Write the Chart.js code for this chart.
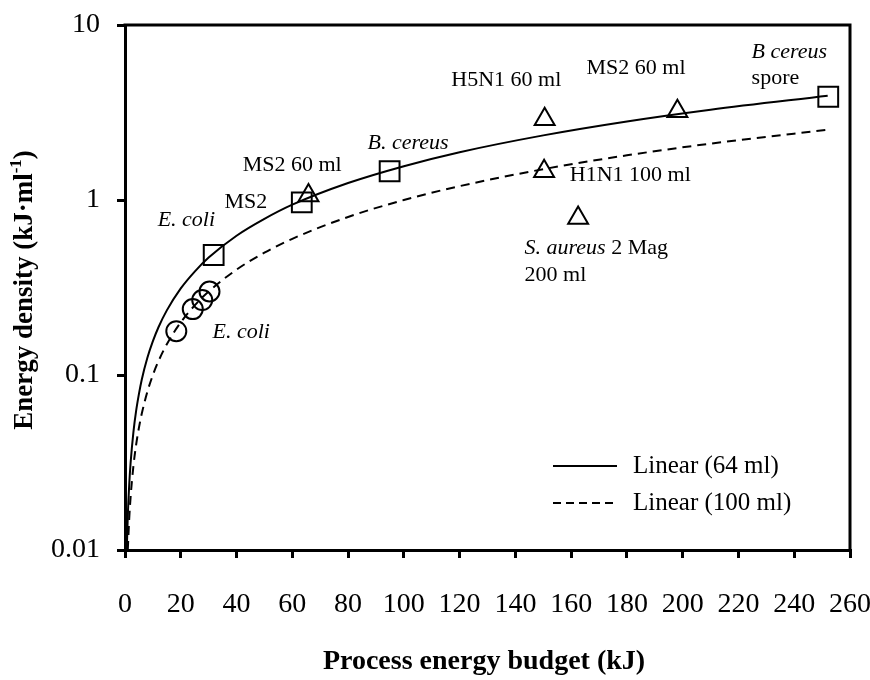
<!DOCTYPE html>
<html>
<head>
<meta charset="utf-8">
<script src="https://cdn.jsdelivr.net/npm/chart.js@4/dist/chart.umd.min.js"></script>
<style>
html,body{margin:0;padding:0;background:#fff;}
#wrap{width:870px;height:680px;}
</style>
</head>
<body>
<div id="wrap"><canvas id="c" width="870" height="680"></canvas></div>
<script>
// ---- Data ----
const squareX = [31.8, 63.4, 94.9, 252.2];
const squareY = [0.485, 0.97, 1.46, 3.89];

const triangleX = [65.8, 150.5, 150.3, 162.5, 198.1];
const triangleY = [1.06, 2.89, 1.46, 0.79, 3.21];

const circleX = [18.4, 24.3, 27.7, 30.3];
const circleY = [0.178, 0.238, 0.268, 0.30];

// Trend line "Linear (64 ml)"
const fit64X = [0.64, 1, 1.5, 2, 3, 4, 5, 6, 8, 10, 12, 15, 20, 25, 30, 40, 50, 60, 80, 100, 120, 150, 180, 210, 252];
const fit64Y = [0.01, 0.0156, 0.0234, 0.0313, 0.0469, 0.0625, 0.078, 0.094, 0.125, 0.156, 0.1875, 0.234, 0.3125, 0.39, 0.469, 0.625, 0.78, 0.94, 1.25, 1.56, 1.875, 2.34, 2.81, 3.28, 3.94];

// Trend line "Linear (100 ml)"
const fit100X = [1, 1.5, 2, 3, 4, 5, 6, 8, 10, 12, 15, 20, 25, 30, 40, 50, 60, 80, 100, 120, 150, 180, 210, 252];
const fit100Y = [0.01, 0.015, 0.02, 0.03, 0.04, 0.05, 0.06, 0.08, 0.1, 0.12, 0.15, 0.2, 0.25, 0.3, 0.4, 0.5, 0.6, 0.8, 1.0, 1.2, 1.5, 1.8, 2.1, 2.52];

const xTickValues = [0, 20, 40, 60, 80, 100, 120, 140, 160, 180, 200, 220, 240, 260];
const yTickValues = [0.01, 0.1, 1, 10];
const yTickLabels = ['0.01', '0.1', '1', '10'];

const seriesNames = ['Linear (64 ml)', 'Linear (100 ml)'];
const xTitle = 'Process energy budget (kJ)';
const yTitleMain = 'Energy density (kJ·ml';
const yTitleSup = '-1';
const yTitleEnd = ')';

// Point labels: text segments [text, italic], anchored at data coordinates (left edge, middle)
const labelTexts = [
  [['H5N1 60 ml', false]],
  [['MS2 60 ml', false]],
  [['B cereus', true]],
  [['spore', false]],
  [['B. cereus', true]],
  [['MS2 60 ml', false]],
  [['MS2', false]],
  [['E. coli', true]],
  [['E. coli', true]],
  [['H1N1 100 ml', false]],
  [['S. aureus', true], [' 2 Mag', false]],
  [['200 ml', false]]
];
const labelX = [117.0, 165.5, 224.7, 224.7, 87.0, 42.2, 35.7, 11.7, 31.4, 159.5, 143.3, 143.3];
const labelY = [4.85, 5.66, 7.03, 4.96, 2.12, 1.585, 0.974, 0.769, 0.176, 1.39, 0.53, 0.3728];

const FONT = "'Liberation Serif', 'Times New Roman', serif";

const toPts = (xs, ys) => xs.map((x, i) => ({x: x, y: ys[i]}));

const framePlugin = {
  id: 'frame',
  afterDatasetsDraw(chart) {
    const {ctx, chartArea: a} = chart;
    ctx.save();
    ctx.strokeStyle = '#000';
    ctx.lineWidth = 3;
    ctx.beginPath();
    ctx.moveTo(a.left - 1.5, a.top);
    ctx.lineTo(a.right, a.top);
    ctx.lineTo(a.right, a.bottom + 1.5);
    ctx.stroke();
    ctx.restore();
  },
  afterDraw(chart) {
    const {ctx, chartArea: a} = chart;
    const xs = chart.scales.x, ys = chart.scales.y;
    ctx.save();
    ctx.fillStyle = '#000';
    ctx.textBaseline = 'middle';
    ctx.textAlign = 'left';
    // point labels
    labelTexts.forEach((segs, i) => {
      let px = xs.getPixelForValue(labelX[i]);
      const py = ys.getPixelForValue(labelY[i]);
      segs.forEach(([t, it]) => {
        ctx.font = (it ? 'italic ' : '') + '22px ' + FONT;
        ctx.fillText(t, px, py);
        px += ctx.measureText(t).width;
      });
    });
    // legend
    const lx0 = a.left + 428, lx1 = a.left + 492, tx = a.left + 508;
    const ly = [a.top + 441, a.top + 478];
    ctx.strokeStyle = '#000';
    ctx.lineWidth = 2;
    [[], [8, 5]].forEach((dash, i) => {
      ctx.setLineDash(dash);
      ctx.beginPath();
      ctx.moveTo(lx0, ly[i]);
      ctx.lineTo(lx1, ly[i]);
      ctx.stroke();
      ctx.font = '25px ' + FONT;
      ctx.fillText(seriesNames[i], tx, ly[i]);
    });
    ctx.setLineDash([]);
    // x title
    ctx.font = 'bold 28px ' + FONT;
    ctx.textAlign = 'center';
    ctx.fillText(xTitle, 484, 662);
    // y title with superscript
    ctx.translate(25, 290);
    ctx.rotate(-Math.PI / 2);
    ctx.textAlign = 'left';
    ctx.font = 'bold 27px ' + FONT;
    const w1 = ctx.measureText(yTitleMain).width;
    const w3 = ctx.measureText(yTitleEnd).width;
    ctx.font = 'bold 17px ' + FONT;
    const w2 = ctx.measureText(yTitleSup).width;
    let p = -(w1 + w2 + w3) / 2;
    ctx.font = 'bold 27px ' + FONT;
    ctx.fillText(yTitleMain, p, 0);
    p += w1;
    ctx.font = 'bold 17px ' + FONT;
    ctx.fillText(yTitleSup, p, -8);
    p += w2;
    ctx.font = 'bold 27px ' + FONT;
    ctx.fillText(yTitleEnd, p, 0);
    ctx.restore();
  }
};

const markerBase = {
  showLine: false,
  borderColor: '#000',
  backgroundColor: 'rgba(0,0,0,0)',
  pointBorderColor: '#000',
  pointBackgroundColor: 'rgba(0,0,0,0)',
  pointBorderWidth: 2,
  clip: false
};

new Chart(document.getElementById('c'), {
  type: 'scatter',
  data: {
    datasets: [
      {
        label: seriesNames[0],
        data: toPts(fit64X, fit64Y),
        showLine: true,
        borderColor: '#000',
        borderWidth: 2,
        pointRadius: 0,
        cubicInterpolationMode: 'monotone',
        fill: false
      },
      {
        label: seriesNames[1],
        data: toPts(fit100X, fit100Y),
        showLine: true,
        borderColor: '#000',
        borderWidth: 2,
        borderDash: [9, 6],
        pointRadius: 0,
        cubicInterpolationMode: 'monotone',
        fill: false
      },
      Object.assign({label: 'squares', data: toPts(squareX, squareY), pointStyle: 'rect', pointRadius: 14}, markerBase),
      Object.assign({label: 'triangles', data: toPts(triangleX, triangleY), pointStyle: 'triangle', pointRadius: 11.5}, markerBase),
      Object.assign({label: 'circles', data: toPts(circleX, circleY), pointStyle: 'circle', pointRadius: 10}, markerBase)
    ]
  },
  options: {
    responsive: false,
    animation: false,
    devicePixelRatio: 1,
    layout: {padding: {left: 0, right: 20, top: 25, bottom: 0}},
    plugins: {legend: {display: false}, tooltip: {enabled: false}},
    events: [],
    scales: {
      x: {
        type: 'linear',
        min: 0,
        max: 260,
        afterBuildTicks: (s) => { s.ticks = xTickValues.map(v => ({value: v})); },
        afterFit: (s) => { s.height = 130; s.paddingLeft = 0; s.paddingRight = 0; },
        ticks: {
          color: '#000',
          font: {family: FONT, size: 28},
          padding: 30,
          maxRotation: 0
        },
        grid: {display: true, drawOnChartArea: false, drawTicks: true, tickLength: 8, lineWidth: 3, color: '#000'},
        border: {display: true, width: 3, color: '#000'}
      },
      y: {
        type: 'logarithmic',
        min: 0.01,
        max: 10,
        afterBuildTicks: (s) => { s.ticks = yTickValues.map(v => ({value: v})); },
        afterFit: (s) => { s.width = 125; s.paddingTop = 0; s.paddingBottom = 0; },
        ticks: {
          color: '#000',
          font: {family: FONT, size: 28},
          padding: 17,
          callback: (v) => { const i = yTickValues.indexOf(v); return i >= 0 ? yTickLabels[i] : ''; }
        },
        grid: {display: true, drawOnChartArea: false, drawTicks: true, tickLength: 8, lineWidth: 3, color: '#000'},
        border: {display: true, width: 3, color: '#000'}
      }
    }
  },
  plugins: [framePlugin]
});
</script>
</body>
</html>
